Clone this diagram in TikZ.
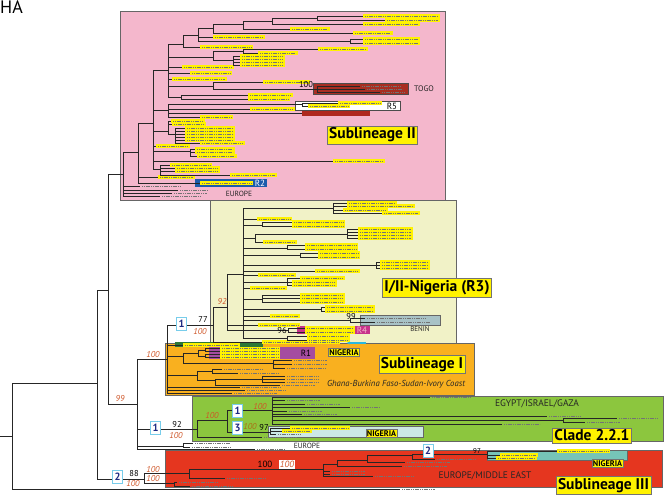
\documentclass[tikz,border=0pt]{standalone}
\usepackage{fontspec}
\setmainfont{PT Sans}
\setsansfont{PT Sans}
\usetikzlibrary{arrows.meta}

\definecolor{pinkbg}{RGB}{244,183,204}
\definecolor{creambg}{RGB}{241,242,199}
\definecolor{orangebg}{RGB}{249,176,31}
\definecolor{greenbg}{RGB}{140,198,62}
\definecolor{redbg}{RGB}{229,54,31}
\definecolor{lblyellow}{RGB}{255,242,0}
\definecolor{bootred}{RGB}{206,84,38}
\definecolor{bootolive}{RGB}{170,110,20}
\definecolor{badgeblue}{RGB}{28,40,130}
\definecolor{badgeline}{RGB}{120,205,235}
\definecolor{togobrown}{RGB}{168,46,34}
\definecolor{civred}{RGB}{175,40,30}
\definecolor{r2blue}{RGB}{28,92,172}
\definecolor{beningrey}{RGB}{168,194,198}
\definecolor{r4mag}{RGB}{200,52,140}
\definecolor{r1purple}{RGB}{165,76,160}
\definecolor{darkgreen}{RGB}{45,120,55}
\definecolor{nigcyan}{RGB}{204,232,230}
\definecolor{nigteal}{RGB}{118,196,184}
\definecolor{arrcyan}{RGB}{40,185,225}

% children of an internal node
\newcommand\subs[2]{\foreach \c in {#2}{\draw[br] (#1) |- (\c);}}
% leaves of a node: tip x / y / label width (>0 yellow, <0 plain)
\newcommand\tips[2]{%
  \foreach \x/\y/\w in {#2}{%
    \draw[br] (#1) |- (\x,\y);
    \ifdim\w pt>0pt
      \fill[lblyellow] (\x,{\y-1.8}) rectangle ({\x+\w},{\y+1.8});
      \draw[txt] ({\x+2},\y) -- ({\x+\w-2},\y);
    \else\ifdim\w pt<0pt
      \draw[txt] ({\x+2},\y) -- ({\x-\w},\y);
    \fi\fi
  }}

\begin{document}
\begin{tikzpicture}[x=1pt, y=-1pt,
    br/.style={draw=black!85, line width=0.6pt},
    txt/.style={draw=black!55, line width=0.7pt, dash pattern=on 1.2pt off 0.6pt},
    region/.style={draw=black!60, line width=0.7pt},
    clade/.style={draw=black!55, fill=lblyellow, line width=0.6pt, inner sep=2pt,
      font=\bfseries\fontsize{15.5}{16}\selectfont},
    nig/.style={draw=black!55, fill=lblyellow, inner sep=1pt,
      font=\bfseries\fontsize{8.2}{8.2}\selectfont},
    geo/.style={inner sep=0pt, text=black!85, font=\fontsize{9.5}{10}\selectfont},
    tag/.style={inner sep=0pt, font=\fontsize{9}{9}\selectfont},
    boot/.style={inner sep=0pt, font=\fontsize{8.5}{9}\selectfont},
    bootr/.style={boot, text=bootred, font=\itshape\fontsize{8.5}{9}\selectfont},
    badge/.style={draw=badgeline, fill=white, line width=1pt, text=badgeblue,
      font=\bfseries\fontsize{10.5}{10.5}\selectfont,
      minimum width=10pt, minimum height=13pt, inner sep=0pt}]
\useasboundingbox (0,0) rectangle (664,495);

% clade backgrounds
\draw[region, fill=pinkbg] (120,11) rectangle (445,200);
\draw[region, fill=orangebg] (165,343) rectangle (474,395);
\draw[region, fill=creambg] (210,200) rectangle (456,343);
\draw[region, fill=greenbg] (192,396) rectangle (663,441);
\draw[region, fill=redbg] (165,450) rectangle (662,487);

% marked groups
\draw[black!70, fill=togobrown] (313,83) rectangle (408,94);
\draw[black!70, fill=white] (295,101) rectangle (400,110);
\fill[civred] (302,111) rectangle (370,116);
\fill[r2blue] (195,179) rectangle (267,187);
\draw[black!60, fill=beningrey] (360,315) rectangle (440,325);
\fill[r4mag] (297,326) rectangle (370,334);
\fill[r1purple] (209,347) rectangle (315,359);
\fill[darkgreen] (175,342) rectangle (263,347);
\draw[black!60, fill=nigcyan] (268,426) rectangle (423,437);
\draw[black!60, fill=nigteal] (487,450) rectangle (627,460);

% internal nodes
\coordinate (stub) at (0,436);
\foreach \n/\x/\y in {root/12/436, nA/97/383, nB/108/290, nC/144/479,
    nE/137/404, nF/167/359, nG/213/325, n221/197/429, nEu/183/446,
    nP/123/174, p1/138/152, p2/153/123, p3/168/70, p3a/183/44,
    p3b/198/35, p3c/213/28, p3d/243/24, p3e/272/21, p3f/317/18, p3g/350/41,
    p3h/213/57, p3i/243/51, p3j/233/60, p3k/213/86, ptg/317/89, p3l/181/97,
    p4/168/110, pr5/302/104, p5/168/131, p5a/175/134, p6/190/151, p7/160/169,
    g1/227/307, g2/243/274, r4n/288/330, ga/333/208, gb/262/225,
    gc/255/238, gc2/347/234, gd/287/248, ge/300/255, gf/376/265, gg/287/282,
    gh/262/299, gi/321/309, gj/350/320, gk/287/338,
    o1/183/356, o2/198/353, o2a/205/350, o2b/205/356, o3/273/363,
    o4/197/375, o5/212/371, o6/215/380, o7/262/379,
    g2n/227/420, gEg/272/410, gNg/270/432, e8/563/420,
    r1/189/473, r2/174/483, r3/323/469, r4/337/464, r5/367/460,
    r6/412/455, r7/487/454}
  \coordinate (\n) at (\x,\y);

% backbone
\draw[br] (stub) -- (root);
\subs{root}{nA}
\tips{root}{400/489/-35}
\subs{nA}{nB,nC}
\subs{nB}{nP,nE}
\subs{nE}{nF,n221,nEu}
\tips{nE}{255/449/-30}
\subs{nF}{nG,o1,o4}
\tips{nF}{183/345/57, 240/387/-40, 245/390/-40, 232/393/-45}
\subs{nC}{r1,r2}

% Sublineage II
\subs{nP}{p1}
\tips{nP}{140/186/-40, 178/190/-30, 172/193/-35, 160/196/-40}
\subs{p1}{p2}
\tips{p1}{158/177/37, 200/183/53}
\subs{p2}{p3,p4,p5,p6,p7}
\tips{p2}{156/146/34, 333/161/52}
\subs{p3}{p3a,p3h,p3k,p3l}
\tips{p3}{182/67/52, 190/73/42, 172/79/55}
\subs{p3a}{p3b}
\tips{p3a}{200/47/53}
\subs{p3b}{p3c,p3g}
\tips{p3b}{213/37/52}
\subs{p3c}{p3d}
\tips{p3c}{353/33/40}
\subs{p3d}{p3e}
\tips{p3d}{290/29/40}
\subs{p3e}{p3f}
\tips{p3e}{363/24/57}
\tips{p3f}{363/16/77, 385/20/55}
\tips{p3g}{363/39/57, 363/43/57}
\subs{p3h}{p3i,p3j}
\tips{p3i}{318/49/50, 258/53/40}
\tips{p3j}{240/56/45, 240/59/45, 240/62/45, 240/65/45}
\subs{p3k}{ptg}
\tips{p3k}{263/82/47}
\tips{ptg}{360/86/-40, 365/89/-38, 380/92/-25}
\tips{p3l}{248/95/45, 248/99/42}
\subs{p4}{pr5}
\tips{p4}{250/109/45, 302/113/0, 200/117/33}
\tips{pr5}{338/103/44, 308/106/42}
\subs{p5}{p5a}
\tips{p5}{171/121/34, 172/124/34}
\tips{p5a}{185/128/50, 185/131/50, 185/134/50, 185/137/50, 185/140/50, 200/143/45}
\tips{p6}{195/149/40, 195/152/40, 197/156/40}
\tips{p7}{170/165/42, 175/168/45, 175/171/45, 230/175/47}

% I/II-Nigeria (R3)
\subs{nG}{g1}
\tips{nG}{262/342/78}
\subs{g1}{g2,r4n}
\tips{g1}{258/325/42}
\tips{r4n}{305/328/50, 305/332/50}
\subs{g2}{ga,gb,gc,gd,ge,gf,gg,gh,gi,gj,gk}
\tips{g2}{257/219/35, 315/271/45, 258/275/38, 250/288/37, 270/316/30}
\tips{ga}{347/203/50, 347/206/68, 343/210/45, 382/213/38}
\tips{gb}{292/222/53, 292/226/53}
\subs{gc}{gc2}
\tips{gc}{263/242/34}
\tips{gc2}{358/229/55, 358/232/55, 358/235/55, 358/238/55}
\tips{gd}{305/245/53, 305/249/53}
\tips{ge}{318/253/42, 318/257/42}
\tips{gf}{380/262/50, 380/265/50, 380/268/50}
\tips{gg}{300/278/45, 292/282/45, 292/285/45}
\tips{gh}{300/295/45, 300/298/45, 300/302/45}
\tips{gi}{325/307/50, 325/311/50}
\tips{gj}{365/318/-60, 375/322/-55}
\tips{gk}{307/336/43, 307/340/43}

% Sublineage I
\subs{o1}{o2,o3}
\subs{o2}{o2a,o2b}
\tips{o2a}{220/348.5/60, 220/351.5/60}
\tips{o2b}{220/354.5/60, 220/357.5/60}
\tips{o3}{292/360/-35, 292/364/-35, 285/368/-40}
\subs{o4}{o5,o6}
\tips{o5}{222/369/-40, 238/373/-40}
\subs{o6}{o7}
\tips{o6}{280/385/-35}
\tips{o7}{285/376/-33, 285/379/-33, 285/382/-33}

% Clade 2.2.1 and Europe
\subs{n221}{g2n}
\tips{n221}{262/437/-35}
\subs{g2n}{gEg,gNg}
\subs{gEg}{e8}
\tips{gEg}{430/397/-40, 285/400/-35, 305/404/-35, 350/407/-30, 287/411/-35,
  302/414/-35, 547/416/-33, 502/424/-38}
\tips{e8}{617/418/-40, 585/422/-35}
\tips{gNg}{290/428/60, 282/431/30, 276/434/-25}
\tips{nEu}{193/443/-37, 190/447/-40}

% Sublineage III
\subs{r1}{r3}
\tips{r1}{225/478/-40}
\subs{r3}{r4}
\tips{r3}{330/471/-35, 330/474/-35, 373/476/-40}
\subs{r4}{r5}
\tips{r4}{402/466/-45}
\subs{r5}{r6}
\tips{r5}{405/462/-45}
\subs{r6}{r7}
\tips{r6}{435/459/-40}
\tips{r7}{557/451/53, 500/455/38, 496/458/41}
\tips{r2}{177/482/-40, 190/486/-42}

% titles and regions
\node[anchor=base west, inner sep=0pt, font=\fontsize{18}{18}\selectfont] (ha) at (0,13.5) {HA};
\node[clade] (s2lab) at (372.5,135) {Sublineage II};
\node[clade] (r3lab) at (437,288) {I/II-Nigeria (R3)};
\node[clade] (s1lab) at (422,364.5) {Sublineage I};
\node[clade] (c221lab) at (592,435.5) {Clade 2.2.1};
\node[clade] (s3lab) at (603.5,485.5) {Sublineage III};
\node[nig] (nig1) at (344,352.5) {NIGERIA};
\node[nig] (nig2) at (381.5,433.5) {NIGERIA};
\node[nig] (nig3) at (607.5,463.5) {NIGERIA};
\node[geo, font=\fontsize{8}{8}\selectfont] (togo) at (424,89) {TOGO};
\node[geo, font=\fontsize{7}{7}\selectfont] (benin) at (420,329) {BENIN};
\node[geo, font=\fontsize{7.5}{8}\selectfont] (eu1) at (239,194) {EUROPE};
\node[geo, font=\fontsize{7.5}{8}\selectfont] (eu2) at (307,446) {EUROPE};
\node[geo] (egy) at (537,404) {EGYPT/ISRAEL/GAZA};
\node[geo] (eume) at (485,476) {EUROPE/MIDDLE EAST};
\node[geo, font=\itshape\fontsize{8.7}{9}\selectfont] (ghana) at (396,384)
  {Ghana-Burkina Faso-Sudan-Ivory Coast};
\node[tag] (r5lab) at (392,106) {R5};
\node[tag, text=white] (r2lab) at (260,183) {R2};
\node[tag, text=pinkbg] (r4lab) at (362,330) {R4};
\node[tag] (r1lab) at (306,353) {R1};

% support values
\node[boot] (bt1) at (306,85) {100};
\node[boot] (bt2) at (351,317) {99};
\node[boot] (bt3) at (282,331) {96};
\node[boot] (bt4) at (203,320) {77};
\node[bootr] (bt5) at (200,332) {100};
\node[bootr] (bt6) at (222,302) {92};
\node[bootr] (bt7) at (153,355) {100};
\node[bootr] (bt8) at (120,399) {99};
\node[boot] (bt9) at (177,425) {92};
\node[bootr] (bt10) at (176,436) {100};
\node[boot] (bt11) at (134,474) {88};
\node[bootr] (bt12) at (133,484) {100};
\node[bootr] (bt13) at (153,470) {100};
\node[bootr] (bt14) at (153,479) {100};
\node[bootr] (bt15) at (212,416) {100};
\node[bootr] (bt16) at (260,407) {100};
\node[bootr, text=bootolive] (bt17) at (250,427) {100};
\node[boot] (bt18) at (264,428) {97};
\node[boot, font=\fontsize{7}{7}\selectfont] (bt19) at (477,451) {97};
\node[boot, font=\fontsize{9}{9}\selectfont] (bt20) at (265,464) {100};
\node[bootr, fill=white, inner sep=1pt, font=\itshape\fontsize{9}{9}\selectfont] (bt21) at (287,464.5) {100};

% numbered markers
\node[badge] (bg1) at (181.5,324) {1};
\node[badge] (bg2) at (155.5,428) {1};
\node[badge] (bg3) at (117.5,476.5) {2};
\node[badge] (bg4) at (237.5,411) {1};
\node[badge] (bg5) at (237.5,428) {3};
\node[badge] (bg6) at (428,451) {2};

\coordinate (arrs) at (366,343);
\coordinate (arre) at (346,343);
\draw[-{Latex[length=4pt]}, arrcyan, line width=1.6pt] (arrs) -- (arre);
\end{tikzpicture}
\end{document}
